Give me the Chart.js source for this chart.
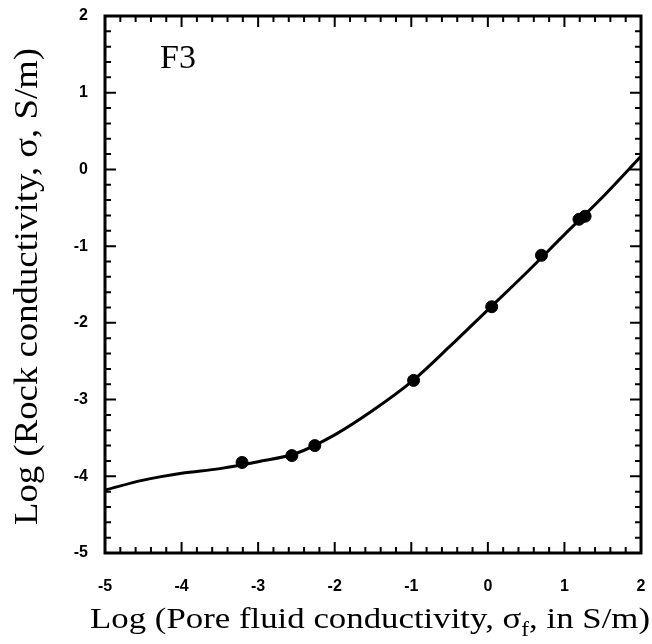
<!DOCTYPE html>
<html>
<head>
<meta charset="utf-8">
<script src="https://cdn.jsdelivr.net/npm/chart.js@4.4.0/dist/chart.umd.min.js"></script>
<style>
  html, body { margin: 0; padding: 0; background: #fff; }
  #wrap { width: 652px; height: 644px; position: relative; }
</style>
</head>
<body>
<div id="wrap"><canvas id="chart" width="652" height="644"></canvas></div>
<script>
// fitted curve
const curveX = [-5, -4.5, -4, -3.5, -3, -2.5, -2, -1.5, -1, -0.5, 0, 0.5, 1, 1.5, 2]
const curveY = [-4.18, -4.05, -3.96, -3.90, -3.81, -3.70, -3.46, -3.14, -2.77, -2.31, -1.83, -1.35, -0.85, -0.36, 0.17]
// measured samples (dots)
const pointX = [-3.21, -2.56, -2.26, -0.97, 0.05, 0.70, 1.19, 1.27]
const pointY = [-3.82, -3.73, -3.60, -2.75, -1.79, -1.12, -0.65, -0.61]
const xRange = [-5, 2]
const yRange = [-5, 2]
const panelLabel = "F3"

const serif = "'Liberation Serif', 'Times New Roman', serif"
const sans = "'Liberation Sans', Arial, sans-serif"

const curveData = curveX.map((x, i) => ({ x: x, y: curveY[i] }))
const pointData = pointX.map((x, i) => ({ x: x, y: pointY[i] }))

// draw a run of text pieces stretched to a given width
function drawRun(ctx, parts, x0, base, width) {
  let total = 0
  parts.forEach(p => { ctx.font = p.f; p.w = ctx.measureText(p.t).width; total += p.w })
  const k = width / total
  ctx.save()
  ctx.translate(x0, base)
  ctx.scale(k, 1)
  let x = 0
  parts.forEach(p => {
    ctx.font = p.f
    ctx.fillText(p.t, x, p.dy)
    x += p.w
  })
  ctx.restore()
}

// frame, inward ticks on all four sides, panel label, axis titles
const framePlugin = {
  id: 'frame',
  afterDraw(chart) {
    const ctx = chart.ctx
    const a = chart.chartArea
    const xs = chart.scales.x
    const ys = chart.scales.y
    ctx.save()
    ctx.strokeStyle = '#000'
    ctx.lineWidth = 2
    for (let i = 0; i <= 35; i++) {
      const v = xRange[0] + i * 0.2
      const px = xs.getPixelForValue(v)
      const len = i % 5 === 0 ? 11 : 6
      ctx.beginPath()
      ctx.moveTo(px, a.bottom); ctx.lineTo(px, a.bottom - len)
      ctx.moveTo(px, a.top); ctx.lineTo(px, a.top + len)
      ctx.stroke()
    }
    for (let i = 0; i <= 35; i++) {
      const v = yRange[0] + i * 0.2
      const py = ys.getPixelForValue(v)
      const len = i % 5 === 0 ? 11 : 6
      ctx.beginPath()
      ctx.moveTo(a.left, py); ctx.lineTo(a.left + len, py)
      ctx.moveTo(a.right, py); ctx.lineTo(a.right - len, py)
      ctx.stroke()
    }
    ctx.lineWidth = 3
    ctx.strokeRect(a.left, a.top, a.right - a.left, a.bottom - a.top)

    ctx.fillStyle = '#000'
    ctx.textBaseline = 'alphabetic'
    ctx.textAlign = 'left'
    ctx.font = "34px " + serif
    ctx.fillText(panelLabel, 160, 68)

    // x axis title: Log (Pore fluid conductivity, σ_f, in S/m)
    drawRun(ctx, [
      { t: "Log (Pore fluid conductivity, \u03c3", f: "30px " + serif, dy: 0 },
      { t: "f", f: "20px " + serif, dy: 8 },
      { t: ", in S/m)", f: "30px " + serif, dy: 0 }
    ], 90, 628, 560)

    // y axis title, rotated
    ctx.save()
    ctx.translate(37, 525)
    ctx.rotate(-Math.PI / 2)
    drawRun(ctx, [
      { t: "Log (Rock conductivity, \u03c3, S/m)", f: "34px " + serif, dy: 0 }
    ], 0, 0, 477)
    ctx.restore()
    ctx.restore()
  }
}

new Chart(document.getElementById('chart'), {
  type: 'scatter',
  data: {
    datasets: [
      {
        label: 'fit',
        data: curveData,
        showLine: true,
        borderColor: '#000',
        borderWidth: 3,
        pointRadius: 0,
        cubicInterpolationMode: 'monotone',
        order: 2
      },
      {
        label: 'samples',
        data: pointData,
        showLine: false,
        backgroundColor: '#000',
        borderColor: '#000',
        pointRadius: 6,
        order: 1
      }
    ]
  },
  options: {
    responsive: false,
    animation: false,
    devicePixelRatio: 1,
    layout: { padding: { top: 16, right: 11, left: 0, bottom: 0 } },
    plugins: {
      legend: { display: false },
      tooltip: { enabled: false }
    },
    scales: {
      x: {
        type: 'linear',
        min: xRange[0],
        max: xRange[1],
        grid: { display: false, drawTicks: false },
        border: { display: false },
        afterFit: s => { s.height = 91; s.paddingLeft = 0; s.paddingRight = 0 },
        ticks: {
          stepSize: 1,
          padding: 24,
          color: '#000',
          font: { family: sans, size: 16, weight: 'bold' }
        }
      },
      y: {
        type: 'linear',
        min: yRange[0],
        max: yRange[1],
        grid: { display: false, drawTicks: false },
        border: { display: false },
        afterFit: s => { s.width = 105; s.paddingTop = 0; s.paddingBottom = 0 },
        ticks: {
          stepSize: 1,
          padding: 17,
          color: '#000',
          font: { family: sans, size: 16, weight: 'bold' }
        }
      }
    }
  },
  plugins: [framePlugin]
})
</script>
</body>
</html>
